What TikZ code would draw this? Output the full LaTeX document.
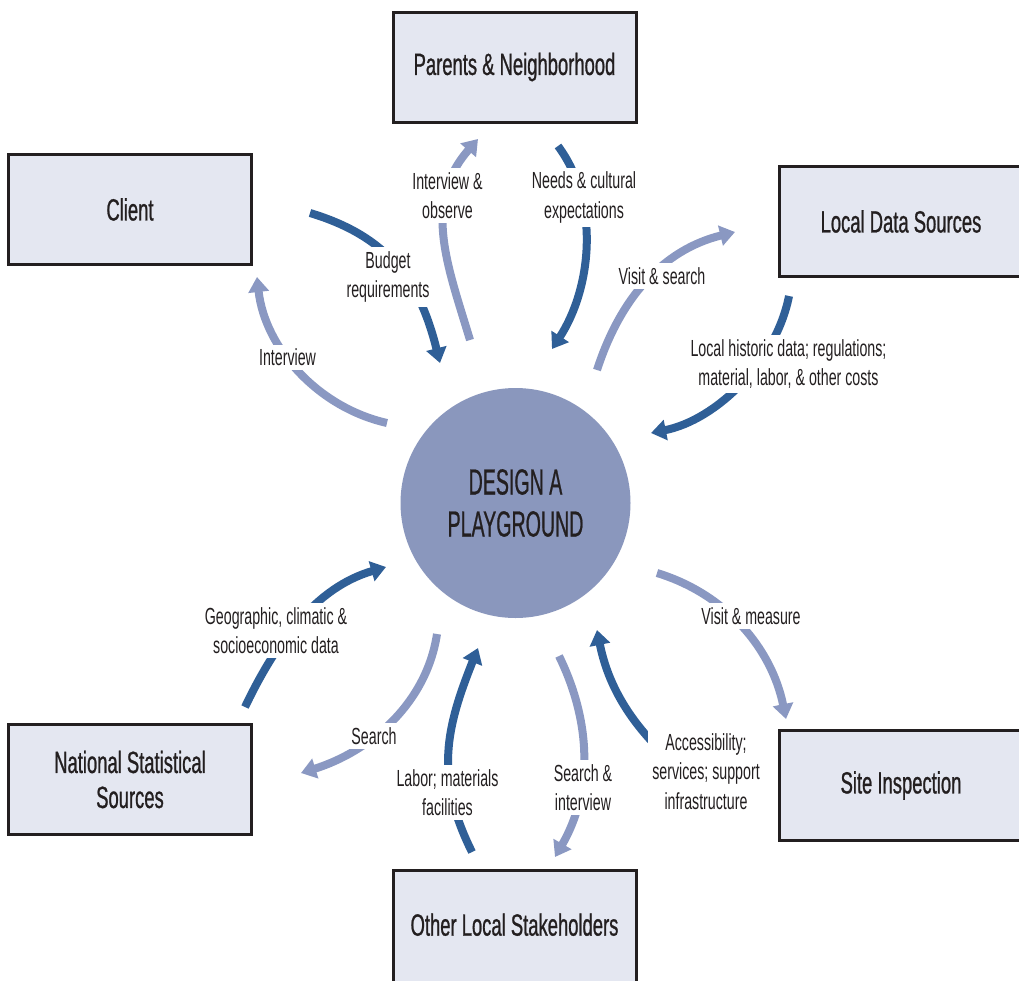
\documentclass[tikz,border=0pt]{standalone}
\usepackage{fontspec}
\setmainfont{Liberation Sans}[FakeStretch=0.61]
\newfontfamily\boxfont{Liberation Sans}[FakeStretch=0.6,FakeBold=0.8]
\newfontfamily\centerfont{Liberation Sans}[FakeStretch=0.54,FakeBold=0.6]
\usetikzlibrary{arrows.meta}
\definecolor{boxfill}{HTML}{E4E7F1}
\definecolor{inkc}{HTML}{231F20}
\definecolor{circc}{HTML}{8A97BD}
\definecolor{darkc}{HTML}{2F5F97}
\definecolor{lightc}{HTML}{8A98C2}
\tikzset{
  src/.style={draw=inkc, line width=3pt, fill=boxfill, minimum width=243pt,
    minimum height=110pt, inner sep=0pt, align=center,
    font=\boxfont\fontsize{30.7}{35}\selectfont, text=inkc},
  lbl/.style={fill=white, inner sep=4pt, align=center,
    font=\fontsize{23.3}{29.5}\selectfont, text=inkc},
  darkarr/.style={draw=darkc, line width=8pt, -{Triangle[width=20pt,length=15pt]}},
  lightarr/.style={draw=lightc, line width=8pt, -{Triangle[width=20pt,length=15pt]}},
}
\begin{document}
\begin{tikzpicture}[x=1pt,y=-1pt]
\useasboundingbox (0,0) rectangle (1019,980);
\clip (0,0) rectangle (1019,980);
\fill[white] (0,0) rectangle (1019,980);

% boxes
\node[src] (parents) at (514.5,67) {Parents \& Neighborhood};
\node[src] (client) at (130,209.5) {Client};
\node[src] (local) at (901,221.5) {Local Data Sources};
\node[src] (site) at (901,785.5) {Site Inspection};
\node[src] (national) at (130,779.5) {National Statistical\\Sources};
\node[src, minimum height=120pt] (other) at (514.5,930.5) {\raisebox{12pt}{Other Local Stakeholders}};

% centre
\node[circle, fill=circc, minimum size=230pt, inner sep=0pt, align=center,
  font=\centerfont\fontsize{36.3}{42}\selectfont, text=inkc]
  (design) at (515.5,503) {DESIGN A\\PLAYGROUND};

% arrow end points
\coordinate (a1s) at (310,213);  \coordinate (a1e) at (440,363);
\coordinate (a2s) at (470,340);  \coordinate (a2e) at (478,139);
\coordinate (a3s) at (558,146);  \coordinate (a3e) at (552,349);
\coordinate (a4s) at (597,370);  \coordinate (a4e) at (735,232);
\coordinate (a5s) at (789,296);  \coordinate (a5e) at (651,433);
\coordinate (a6s) at (387,423);  \coordinate (a6e) at (257,277);
\coordinate (a7s) at (245,707);  \coordinate (a7e) at (386,567);
\coordinate (a8s) at (437,634);  \coordinate (a8e) at (301,773);
\coordinate (a9s) at (472,852);  \coordinate (a9e) at (478,648);
\coordinate (a10s) at (559,656); \coordinate (a10e) at (555,857);
\coordinate (a11s) at (660,750); \coordinate (a11e) at (597,630);
\coordinate (a12s) at (657,573); \coordinate (a12e) at (786,719);

% arrows
\draw[darkarr]  (a1s) .. controls +(80,24) and +(-20,-80) .. (a1e);
\draw[lightarr] (a2s) .. controls +(-22.5,-75) and +(-56,64) .. (a2e);
\draw[darkarr]  (a3s) .. controls +(43,58) and +(39,-60) .. (a3e);
\draw[lightarr] (a4s) .. controls +(23,-71) and +(-73,18) .. (a4e);
\draw[darkarr]  (a5s) .. controls +(-13,66) and +(65,-13) .. (a5e);
\draw[lightarr] (a6s) .. controls +(-69.4,-15.7) and +(7.9,70.8) .. (a6e);
\draw[darkarr]  (a7s) .. controls +(31.4,-65.7) and +(-70,20.4) .. (a7e);
\draw[lightarr] (a8s) .. controls +(-10.7,70.3) and +(68.2,-21.3) .. (a8e);
\draw[darkarr]  (a9s) .. controls +(-38,-76) and +(-31.5,79) .. (a9e);
\draw[lightarr] (a10s) .. controls +(33,67.5) and +(37.5,-65) .. (a10e);
\draw[darkarr]  (a11s) .. controls +(-35,-35) and +(10,50) .. (a11e);
\draw[lightarr] (a12s) .. controls +(69,21) and +(-14.4,-70.6) .. (a12e);

% labels
\node[lbl] (l1) at (388,277) {Budget\\requirements};
\node[lbl] (l2) at (447.5,195.5) {Interview \&\\observe};
\node[lbl] (l3) at (584,197.5) {Needs \& cultural\\expectations};
\node[lbl] (l4) at (662,276) {Visit \& search};
\node[lbl] (l5) at (788.5,364) {Local historic data; regulations;\\material, labor, \& other costs};
\node[lbl] (l6) at (287.5,357.5) {Interview};
\node[lbl] (l7) at (276,630.5) {Geographic, climatic \&\\socioeconomic data};
\node[lbl] (l8) at (374,736) {Search};
\node[lbl] (l9) at (447.5,792.5) {Labor; materials\\facilities};
\node[lbl] (l10) at (583,787.5) {Search \&\\interview};
\node[lbl] (l11) at (706,771.5) {Accessibility;\\services; support\\infrastructure};
\node[lbl] (l12) at (751,616) {Visit \& measure};
\end{tikzpicture}
\end{document}
